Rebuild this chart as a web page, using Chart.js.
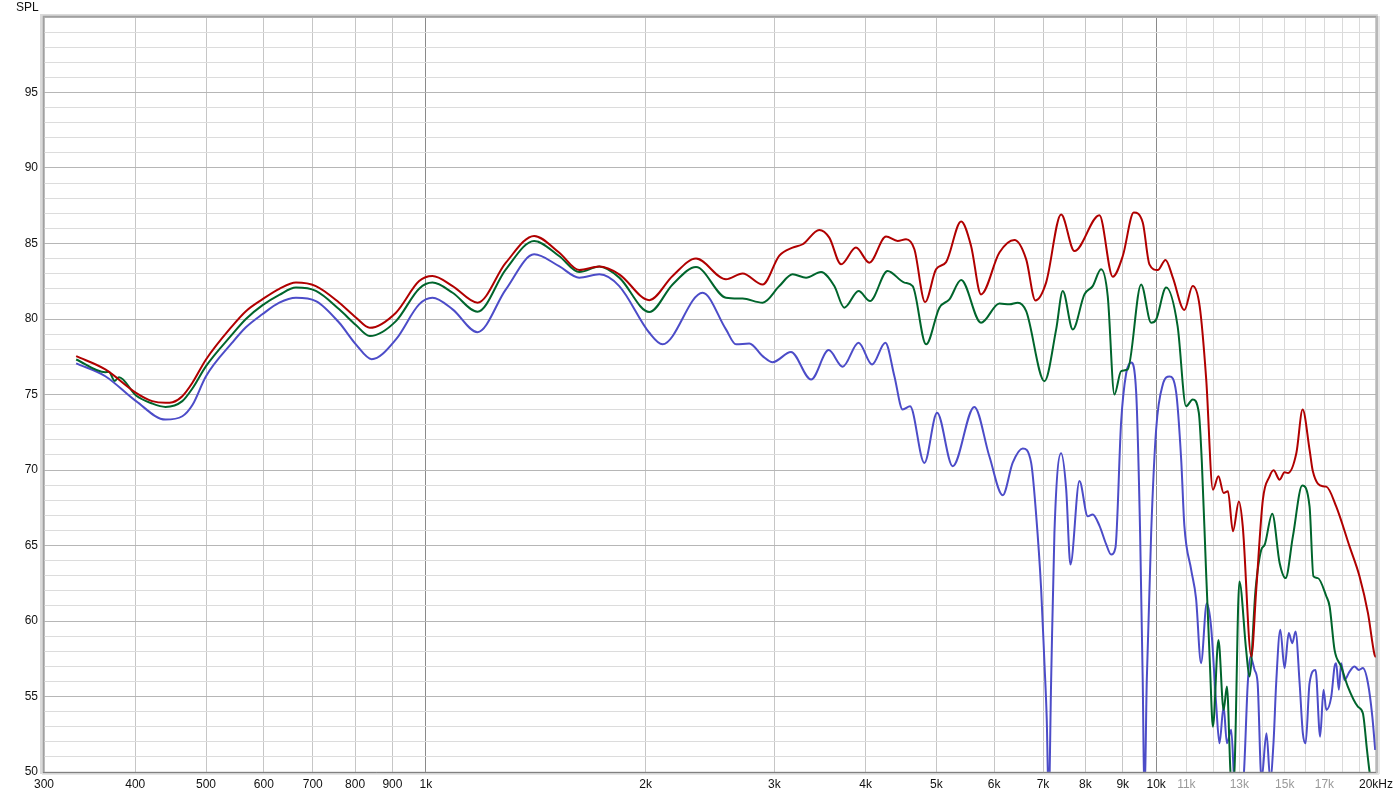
<!DOCTYPE html>
<html>
<head>
<meta charset="utf-8">
<script src="https://cdn.jsdelivr.net/npm/chart.js@4"></script>
<style>
html,body{margin:0;padding:0;background:#fff;}
canvas{display:block;}
</style>
</head>
<body>
<canvas id="c" width="1398" height="797"></canvas>
<script>
// ---- data (frequency in Hz, SPL in dB) ----
const redHz = [332,364,401,422,440,450,464,479,500,543,567,597,630,664,707,761,802,838,910,979,1021,1088,1177,1287,1407,1522,1622,1728,1840,2023,2177,2344,2576,2715,2892,3048,3178,3281,3457,3568,3703,3881,4048,4267,4426,4545,4666,4826,4996,5157,5407,5579,5757,6101,6396,6638,6834,7068,7411,7729,8362,8721,9001,9319,9586,9790,10050,10300,10540,10930,11220,11470,11710,11960,12170,12370,12540,12740,12980,13140,13500,13710,14000,14300,14480,14760,14990,15150,15560,15870,16220,16390,16910,17100,17640,18400,18990,19500,19910,20000];
const redDb = [77.54,76.66,75.11,74.56,74.45,74.49,74.89,75.78,77.32,79.53,80.52,81.30,82.0,82.41,82.18,81.08,80.1,79.42,80.42,82.51,82.85,82.18,81.08,83.73,85.50,84.40,83.24,83.47,82.96,81.25,82.85,84.00,82.63,83.02,82.29,84.2,84.73,84.95,85.90,85.39,83.62,84.73,83.73,85.46,85.17,85.28,84.62,81.12,83.29,83.77,86.45,84.84,81.63,84.40,85.23,83.95,81.23,82.41,86.92,84.50,86.87,82.80,84.17,87.05,86.39,83.62,83.24,83.91,82.74,80.59,82.18,80.85,76.0,68.7,69.58,68.48,68.59,65.94,67.92,66.27,57.65,62.07,68.04,69.58,69.98,69.36,69.85,69.8,71.13,74.0,71.35,69.91,68.92,68.9,67.59,64.94,62.95,60.52,57.76,57.6];

const greenHz = [332,364,368,375,380,401,422,440,464,479,500,543,567,597,630,664,707,761,802,838,910,979,1021,1088,1177,1287,1407,1522,1622,1728,1840,2023,2177,2344,2576,2715,2892,3048,3178,3316,3476,3625,3741,3913,4057,4288,4521,4641,4841,5049,5211,5407,5757,6101,6297,6464,6638,7032,7296,7449,7688,7976,8187,8407,8584,8767,8955,9143,9537,9844,10000,10320,10700,10990,11220,11440,11550,11700,11850,11960,12170,12370,12500,12640,12720,12810,13000,13280,13420,13680,13930,14080,14420,14760,15040,15390,15850,16220,16420,16650,17100,17280,17550,17920,18300,18890,19190,19440,19600,19800,20000];
const greenDb = [77.32,76.48,76.5,75.9,76.15,74.93,74.4,74.18,74.56,75.4,76.88,78.98,80.0,80.90,81.6,82.08,81.86,80.64,79.6,78.87,79.86,82.01,82.41,81.74,80.48,83.29,85.17,84.17,83.11,83.47,82.74,80.46,82.29,83.44,81.41,81.35,81.08,82.18,82.96,82.74,83.11,82.18,80.75,81.85,81.19,83.18,82.41,82.18,78.32,80.75,81.30,82.58,79.75,81.03,80.97,81.08,80.52,75.88,79.31,81.85,79.31,81.63,82.18,83.29,81.52,75.0,76.55,76.66,82.29,79.75,79.97,82.08,79.53,74.22,74.67,73.79,70.5,63.5,57.0,53.0,58.75,54.11,55.66,50.0,48.5,50.5,62.62,58.09,56.32,62.07,64.72,65.05,67.11,63.84,62.84,65.60,68.97,67.59,62.95,62.84,61.64,60.96,58.09,56.98,55.66,54.33,53.89,51.46,50.0,48.5,47.5];

const blueHz = [332,364,401,440,464,479,500,543,567,597,630,664,707,761,802,843,910,979,1021,1088,1177,1287,1407,1522,1622,1728,1840,2023,2109,2393,2576,2659,2773,2892,2985,3162,3369,3561,3722,3913,4083,4258,4381,4497,4603,4815,5012,5265,5637,5910,6165,6362,6566,6742,6849,6958,7031,7082,7127,7181,7256,7411,7529,7632,7851,8060,8187,8362,8541,8677,8795,8955,9097,9242,9389,9507,9586,9638,9708,9844,10000,10210,10430,10650,10820,10930,11170,11340,11520,11730,11890,12080,12210,12370,12500,12670,12810,13000,13170,13350,13460,13640,13770,13940,14160,14330,14480,14600,14790,14990,15190,15360,15520,15720,15880,16020,16220,16530,16770,16950,17100,17370,17550,17640,17790,17920,18110,18400,18690,18950,19190,19500,19770,19950];
const blueDb = [77.06,76.21,74.56,73.34,73.56,74.3,76.21,78.43,79.45,80.31,81.08,81.41,81.19,79.75,78.32,77.34,78.65,80.97,81.41,80.64,79.13,81.96,84.28,83.50,82.74,82.96,82.18,79.09,78.32,81.74,79.31,78.32,78.38,77.54,77.14,77.81,75.99,77.94,76.84,78.43,76.99,78.43,76.21,74.0,74.22,70.47,73.79,70.25,74.18,70.91,68.33,70.49,71.43,70.49,67.06,62.14,57.23,53.55,48.0,56.0,65.83,71.11,68.77,63.74,69.27,66.93,67.06,66.32,65.09,64.40,64.85,73.20,76.39,77.12,75.16,65.83,56.0,48.0,56.0,65.83,72.70,75.65,76.19,75.16,70.74,66.32,63.37,61.5,57.21,61.18,59.64,54.55,51.90,54.33,51.90,52.79,49.0,48.5,49.5,55.9,57.65,56.76,55.9,49.5,52.57,49.5,52.0,55.88,59.42,56.88,59.2,58.53,59.3,55.88,52.57,51.90,55.88,56.76,52.34,55.44,54.11,54.99,56.98,57.21,55.44,57.21,56.10,56.65,56.98,56.76,56.88,55.88,53.67,51.46];

const xTickValues = [300,400,500,600,700,800,900,1000,2000,3000,4000,5000,6000,7000,8000,9000,10000,11000,12000,13000,14000,15000,16000,17000,18000,19000,20000];
const xTickLabels = ['300','400','500','600','700','800','900','1k','2k','3k','4k','5k','6k','7k','8k','9k','10k','11k','','13k','','15k','','17k','','','20kHz'];
const yTickLabelStep = 5;

// ---- build ----
function pts(hz, db){ return hz.map((h,i)=>({x:h,y:db[i]})); }

const FONT = {family:'"Liberation Sans", Arial, sans-serif', size:12};

const framePlugin = {
  id:'frame',
  afterDraw(chart){
    const {ctx, chartArea:a} = chart;
    ctx.save();
    ctx.fillStyle = '#dadada';
    ctx.fillRect(a.left-4, a.top-3, 3, a.bottom-a.top+5);
    ctx.fillRect(a.left-4, a.top-3, a.right-a.left+6, 2);
    ctx.fillStyle = '#e6e6e6';
    ctx.fillRect(a.left-2, a.bottom+1, a.right-a.left+5, 2);
    ctx.fillRect(a.right+2, a.top-1, 2, a.bottom-a.top+3);
    ctx.strokeStyle = '#a0a0a0';
    ctx.lineWidth = 1.5;
    ctx.strokeRect(a.left-0.5, a.top-0.5, a.right-a.left+1, a.bottom-a.top+1);
    ctx.strokeStyle = '#808080';
    ctx.lineWidth = 1;
    ctx.beginPath(); ctx.moveTo(a.left-1, a.bottom+0.5); ctx.lineTo(a.right+1, a.bottom+0.5); ctx.stroke();
    ctx.fillStyle = '#b8b8b8';
    ctx.fillRect(a.right, a.top-1, 2, a.bottom-a.top+2);
    ctx.fillStyle = '#111';
    ctx.font = '12px "Liberation Sans", Arial, sans-serif';
    ctx.textBaseline = 'middle';
    ctx.textAlign = 'left';
    ctx.fillText('SPL', 16, 8);
    ctx.restore();
  }
};

new Chart(document.getElementById('c'), {
  type:'line',
  data:{
    datasets:[
      {label:'red', data:pts(redHz,redDb), borderColor:'#b00000', borderWidth:2, pointRadius:0, cubicInterpolationMode:'monotone'},
      {label:'green', data:pts(greenHz,greenDb), borderColor:'#00652c', borderWidth:2, pointRadius:0, cubicInterpolationMode:'monotone'},
      {label:'blue', data:pts(blueHz,blueDb), borderColor:'#4c4cc8', borderWidth:2, pointRadius:0, cubicInterpolationMode:'monotone'}
    ]
  },
  options:{
    responsive:false,
    animation:false,
    events:[],
    layout:{padding:{left:0, right:21, top:17, bottom:0}},
    plugins:{legend:{display:false}, tooltip:{enabled:false}},
    scales:{
      x:{
        type:'logarithmic', min:300, max:20000,
        afterBuildTicks(scale){ scale.ticks = xTickValues.map(v=>({value:v})); },
        afterFit(scale){ scale.height = 25; },
        border:{display:false},
        grid:{
          drawTicks:false,
          lineWidth:1,
          color(ctx){
            const v = ctx.tick ? ctx.tick.value : 0;
            if (v===1000 || v===10000) return '#8a8a8a';
            if (v>10000) return '#dadada';
            return '#c6c6c6';
          }
        },
        ticks:{
          autoSkip:false, maxRotation:0, padding:5, font:FONT,
          callback(val, idx){ return xTickLabels[idx]; },
          color(ctx){
            const v = ctx.tick ? ctx.tick.value : 0;
            return (v>10000 && v<20000) ? '#9a9a9a' : '#111';
          }
        }
      },
      y:{
        type:'linear', min:50, max:100,
        afterFit(scale){ scale.width = 44; },
        border:{display:false},
        grid:{
          drawTicks:false,
          lineWidth:1,
          color(ctx){
            const v = ctx.tick ? ctx.tick.value : 0;
            return (v % yTickLabelStep === 0) ? '#b6b6b6' : '#dcdcdc';
          }
        },
        ticks:{
          stepSize:1, autoSkip:false, padding:6, font:FONT, color:'#111',
          callback(v){ return (v % yTickLabelStep === 0 && v < 100) ? String(v) : ''; }
        }
      }
    }
  },
  plugins:[framePlugin]
});
</script>
</body>
</html>
